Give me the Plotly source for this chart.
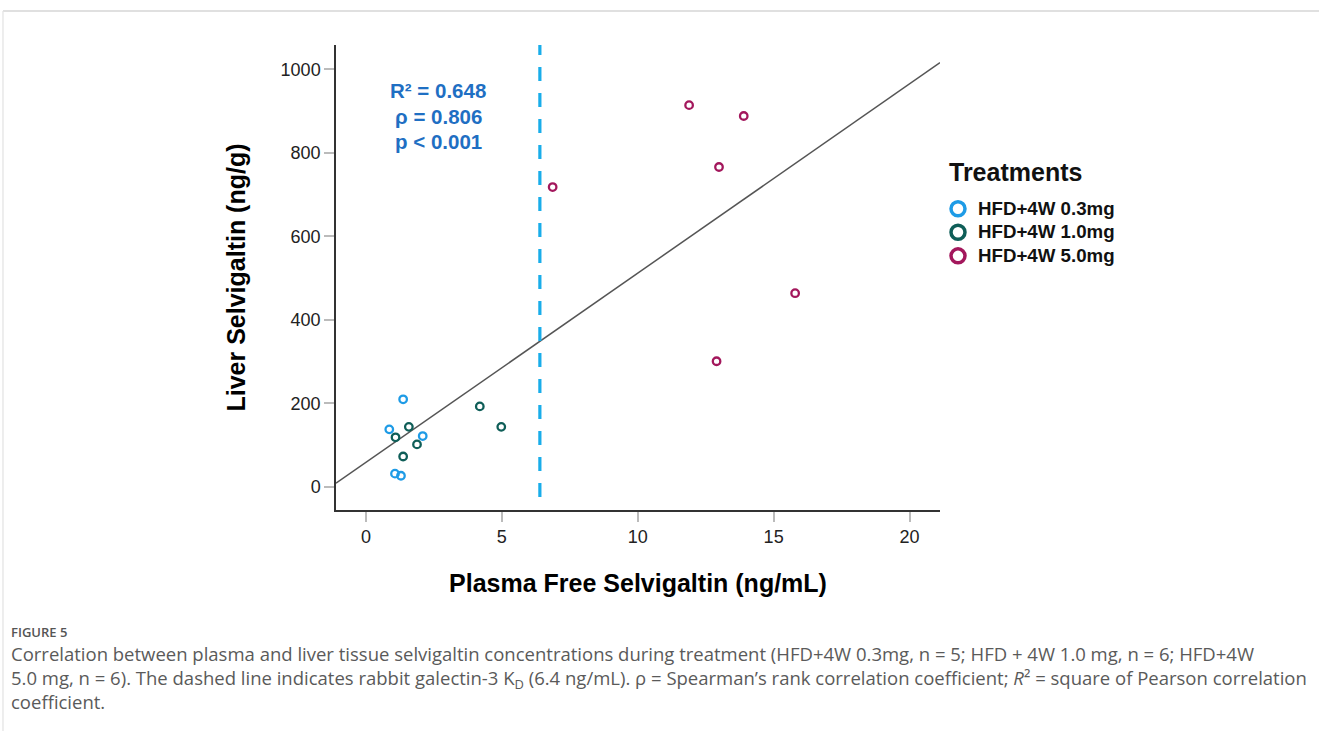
import numpy as np
import plotly.graph_objects as go

# ---------------- data ----------------
groups = ["HFD+4W 0.3mg", "HFD+4W 1.0mg", "HFD+4W 5.0mg"]
x_03 = [1.37, 0.86, 2.09, 1.07, 1.29]
y_03 = [210, 138, 122, 32, 27]
x_10 = [1.58, 1.09, 1.88, 1.37, 4.19, 4.98]
y_10 = [144, 119, 102, 73, 193, 144]
x_50 = [6.87, 11.89, 13.90, 12.99, 15.79, 12.90]
y_50 = [718, 914, 888, 766, 464, 301]
KD = 6.4
x_ticks = [0, 5, 10, 15, 20]
y_ticks = [0, 200, 400, 600, 800, 1000]
stats_text = ["R² = 0.648", "ρ = 0.806", "p < 0.001"]
legend_title = "Treatments"

colors = ["#1E9BE6", "#0F5E58", "#A3175C"]
X_RANGE = [-1.10, 21.12]
Y_RANGE = [-55, 1058]

# plot area in pixels
W, H = 1319, 731
PL, PR, PT, PB = 336, 940, 45, 510


def pxx(px):
    return (px - PL) / (PR - PL)


def pxy(py):
    return (PB - py) / (PB - PT)


FONT = "Liberation Sans, Arial, sans-serif"

fig = go.Figure()

all_x = np.array(x_03 + x_10 + x_50)
all_y = np.array(y_03 + y_10 + y_50)
slope, intercept = np.polyfit(all_x, all_y, 1)
lx = np.array(X_RANGE)
fig.add_trace(go.Scatter(x=lx, y=slope * lx + intercept, mode="lines",
                         line=dict(color="#555555", width=1.5),
                         showlegend=False, hoverinfo="skip"))

for name, xs, ys, c in zip(groups, [x_03, x_10, x_50], [y_03, y_10, y_50], colors):
    fig.add_trace(go.Scatter(x=xs, y=ys, mode="markers", name=name,
                             marker=dict(symbol="circle-open", size=7.5, color=c,
                                         line=dict(width=2.3, color=c)),
                             showlegend=False))
    # legend entry with larger symbol
    fig.add_trace(go.Scatter(x=[None], y=[None], mode="markers",
                             name='<span style="font-size:18.7px"><b>' + name + '</b></span>',
                             marker=dict(symbol="circle-open", size=14, color=c,
                                         line=dict(width=3.5, color=c)),
                             showlegend=True))

# dashed KD line
fig.add_shape(type="line", xref="x", yref="paper", x0=KD, x1=KD,
              y0=pxy(497), y1=1.0,
              line=dict(color="#19ADEA", width=3.2, dash="14px,12px"))

annotations = []
for i, t in enumerate(stats_text):
    annotations.append(dict(xref="paper", yref="paper", x=pxx(438), y=pxy(91 + 25 * i),
                            text="<b>" + t + "</b>", showarrow=False,
                            xanchor="center", yanchor="middle",
                            font=dict(family=FONT, size=20.5, color="#1F6FC3")))

# legend title
annotations.append(dict(xref="paper", yref="paper", x=pxx(947), y=pxy(172),
                        text="<b>" + legend_title + "</b>", showarrow=False,
                        xanchor="left", yanchor="middle",
                        font=dict(family=FONT, size=25, color="#111111")))

# caption
CAP_FONT = "Open Sans, sans-serif"
annotations.append(dict(xref="paper", yref="paper", x=pxx(9), y=pxy(632),
                        text="FIGURE 5", showarrow=False, xanchor="left", yanchor="middle",
                        font=dict(family=CAP_FONT, size=13, color="#555555", weight=600)))
cap_lines = [
    "Correlation between plasma and liver tissue selvigaltin concentrations during treatment (HFD+4W 0.3mg, n = 5; HFD + 4W 1.0 mg, n = 6; HFD+4W",
    "5.0 mg, n = 6). The dashed line indicates rabbit galectin-3 K<sub>D</sub> (6.4 ng/mL). ρ = Spearman’s rank correlation coefficient; <i>R</i>² = square of Pearson correlation",
    "coefficient.",
]
annotations.append(dict(xref="paper", yref="paper", x=pxx(9), y=pxy(677),
                        text="<br>".join(cap_lines), showarrow=False, align="left",
                        xanchor="left", yanchor="middle",
                        font=dict(family=CAP_FONT, size=18.5, color="#5A5A5A")))

# page frame lines
fig.add_shape(type="line", xref="paper", yref="paper", x0=pxx(3), x1=pxx(1319),
              y0=pxy(11), y1=pxy(11), line=dict(color="#D6D6D6", width=1.5))
fig.add_shape(type="line", xref="paper", yref="paper", x0=pxx(3), x1=pxx(3),
              y0=pxy(11), y1=pxy(731), line=dict(color="#E2E2E2", width=1.2))

fig.update_layout(
    width=W, height=H,
    margin=dict(l=PL, r=W - PR, t=PT, b=H - PB, pad=0),
    paper_bgcolor="white", plot_bgcolor="white",
    font=dict(family=FONT, color="#222222"),
    annotations=annotations,
    legend=dict(xref="paper", yref="paper", x=pxx(938), y=pxy(192),
                xanchor="left", yanchor="top",
                font=dict(family=FONT, size=15.8, color="#111111"),
                bgcolor="rgba(0,0,0,0)"),
    xaxis=dict(range=X_RANGE, tickvals=x_ticks, ticktext=[str(v) for v in x_ticks],
               showgrid=False, zeroline=False, showline=True, linecolor="#333333", linewidth=1.5,
               ticks="outside", ticklen=10, tickwidth=2, tickcolor="#BBBBBB",
               tickfont=dict(family=FONT, size=18, color="#222222"),
               title=dict(text="<b>Plasma Free Selvigaltin (ng/mL)</b>", standoff=28,
                          font=dict(family=FONT, size=25, color="#000000"))),
    yaxis=dict(range=Y_RANGE, tickvals=y_ticks, ticktext=[str(v) for v in y_ticks],
               showgrid=False, zeroline=False, showline=True, linecolor="#333333", linewidth=1.5,
               ticks="outside", ticklen=10, tickwidth=2, tickcolor="#BBBBBB",
               tickfont=dict(family=FONT, size=18, color="#222222"),
               title=dict(text="<b>Liver Selvigaltin (ng/g)</b>", standoff=28,
                          font=dict(family=FONT, size=25, color="#000000"))),
)

fig.write_html("out.html", config={"displayModeBar": False},
               post_script="document.body.style.margin='0';document.body.style.overflow='hidden';")
